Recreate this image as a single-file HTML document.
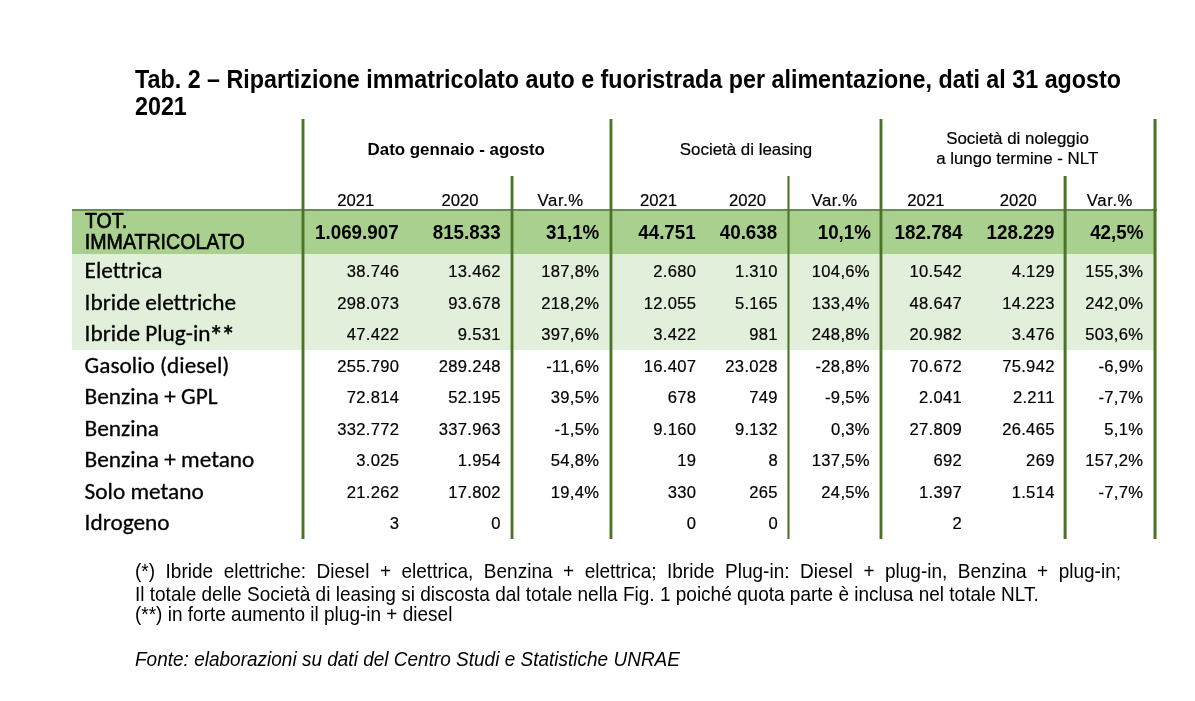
<!DOCTYPE html>
<html><head><meta charset="utf-8"><title>Tab. 2</title>
<style>
html,body{margin:0;padding:0;background:#fff;}
body{width:1195px;height:701px;position:relative;overflow:hidden;font-family:"Liberation Sans", Arial, sans-serif;color:#000;}
.t{position:absolute;white-space:nowrap;-webkit-text-stroke:0.2px #000;}
.r{position:absolute;}
</style></head><body>
<div class="r" style="left:72px;top:211px;width:1083px;height:43px;background:#a9d08e"></div>
<div class="r" style="left:72px;top:254px;width:1083px;height:95.5px;background:#e2efda"></div>
<div class="r" style="left:72px;top:209px;width:1085px;height:2px;background:#6b8a56"></div>
<div class="r" style="left:302px;top:119px;width:2px;height:420px;background:#4a7328;box-shadow:-1px 0 0 rgba(74,115,40,0.45),1px 0 0 rgba(74,115,40,0.45)"></div>
<div class="r" style="left:511px;top:176px;width:2px;height:363px;background:#4a7328;box-shadow:-1px 0 0 rgba(74,115,40,0.4),1px 0 0 rgba(74,115,40,0.45)"></div>
<div class="r" style="left:610px;top:119px;width:2px;height:420px;background:#4a7328;box-shadow:-1px 0 0 rgba(74,115,40,0.45),1px 0 0 rgba(74,115,40,0.4)"></div>
<div class="r" style="left:788px;top:176px;width:1px;height:363px;background:#4a7328;box-shadow:-1px 0 0 rgba(74,115,40,0.55),1px 0 0 rgba(74,115,40,0.55)"></div>
<div class="r" style="left:880px;top:119px;width:2px;height:420px;background:#4a7328;box-shadow:-1px 0 0 rgba(74,115,40,0.45),1px 0 0 rgba(74,115,40,0.4)"></div>
<div class="r" style="left:1064px;top:176px;width:2px;height:363px;background:#4a7328;box-shadow:-1px 0 0 rgba(74,115,40,0.4),1px 0 0 rgba(74,115,40,0.6)"></div>
<div class="r" style="left:1154px;top:119px;width:2px;height:420px;background:#4a7328;box-shadow:-1px 0 0 rgba(74,115,40,0.5),1px 0 0 rgba(74,115,40,0.55)"></div>
<div class="t" style="top:68.78px;font-size:23.3px;line-height:23.3px;font-weight:bold;-webkit-text-stroke:0;left:135.00px;transform:scale(1.0,1.08);transform-origin:0 84.7%;">Tab. 2 – Ripartizione immatricolato auto e fuoristrada per alimentazione, dati al 31 agosto</div>
<div class="t" style="top:95.58px;font-size:23.3px;line-height:23.3px;font-weight:bold;-webkit-text-stroke:0;left:135.00px;transform:scale(1.0,1.08);transform-origin:0 84.7%;">2021</div>
<div class="t" style="top:141.99px;font-size:16.9px;line-height:16.9px;font-weight:bold;-webkit-text-stroke:0;left:156.25px;width:600px;text-align:center;">Dato gennaio - agosto</div>
<div class="t" style="top:142.19px;font-size:16.9px;line-height:16.9px;left:446.00px;width:600px;text-align:center;">Società di leasing</div>
<div class="t" style="top:131.49px;font-size:16.9px;line-height:16.9px;left:717.50px;width:600px;text-align:center;">Società di noleggio</div>
<div class="t" style="top:150.79px;font-size:16.9px;line-height:16.9px;left:717.20px;width:600px;text-align:center;">a lungo termine - NLT</div>
<div class="t" style="top:192.66px;font-size:16.7px;line-height:16.7px;left:55.85px;width:600px;text-align:center;">2021</div>
<div class="t" style="top:192.66px;font-size:16.7px;line-height:16.7px;left:160.00px;width:600px;text-align:center;">2020</div>
<div class="t" style="top:192.66px;font-size:16.7px;line-height:16.7px;left:260.70px;width:600px;text-align:center;letter-spacing:0.6px;">Var.%</div>
<div class="t" style="top:192.66px;font-size:16.7px;line-height:16.7px;left:358.55px;width:600px;text-align:center;">2021</div>
<div class="t" style="top:192.66px;font-size:16.7px;line-height:16.7px;left:447.60px;width:600px;text-align:center;">2020</div>
<div class="t" style="top:192.66px;font-size:16.7px;line-height:16.7px;left:534.65px;width:600px;text-align:center;letter-spacing:0.6px;">Var.%</div>
<div class="t" style="top:192.66px;font-size:16.7px;line-height:16.7px;left:625.90px;width:600px;text-align:center;">2021</div>
<div class="t" style="top:192.66px;font-size:16.7px;line-height:16.7px;left:718.35px;width:600px;text-align:center;">2020</div>
<div class="t" style="top:192.66px;font-size:16.7px;line-height:16.7px;left:809.95px;width:600px;text-align:center;letter-spacing:0.6px;">Var.%</div>
<div class="t" style="top:212.31px;font-size:19.6px;line-height:19.6px;left:85.00px;transform:scale(1.0,1.08);transform-origin:0 84.7%;-webkit-text-stroke:0.6px #000;">TOT.</div>
<div class="t" style="top:233.31px;font-size:19.6px;line-height:19.6px;left:84.80px;transform:scale(1.0,1.08);transform-origin:0 84.7%;-webkit-text-stroke:0.6px #000;">IMMATRICOLATO</div>
<div class="t" style="top:224.39px;font-size:18.8px;line-height:18.8px;font-weight:bold;-webkit-text-stroke:0;right:796.40px;text-align:right;transform:scale(1.0,1.09);transform-origin:100% 84.7%;">1.069.907</div>
<div class="t" style="top:224.39px;font-size:18.8px;line-height:18.8px;font-weight:bold;-webkit-text-stroke:0;right:694.40px;text-align:right;transform:scale(1.0,1.09);transform-origin:100% 84.7%;">815.833</div>
<div class="t" style="top:224.39px;font-size:18.8px;line-height:18.8px;font-weight:bold;-webkit-text-stroke:0;right:595.70px;text-align:right;transform:scale(1.0,1.09);transform-origin:100% 84.7%;">31,1%</div>
<div class="t" style="top:224.39px;font-size:18.8px;line-height:18.8px;font-weight:bold;-webkit-text-stroke:0;right:499.30px;text-align:right;transform:scale(1.0,1.09);transform-origin:100% 84.7%;">44.751</div>
<div class="t" style="top:224.39px;font-size:18.8px;line-height:18.8px;font-weight:bold;-webkit-text-stroke:0;right:417.80px;text-align:right;transform:scale(1.0,1.09);transform-origin:100% 84.7%;">40.638</div>
<div class="t" style="top:224.39px;font-size:18.8px;line-height:18.8px;font-weight:bold;-webkit-text-stroke:0;right:324.00px;text-align:right;transform:scale(1.0,1.09);transform-origin:100% 84.7%;">10,1%</div>
<div class="t" style="top:224.39px;font-size:18.8px;line-height:18.8px;font-weight:bold;-webkit-text-stroke:0;right:232.50px;text-align:right;transform:scale(1.0,1.09);transform-origin:100% 84.7%;">182.784</div>
<div class="t" style="top:224.39px;font-size:18.8px;line-height:18.8px;font-weight:bold;-webkit-text-stroke:0;right:140.60px;text-align:right;transform:scale(1.0,1.09);transform-origin:100% 84.7%;">128.229</div>
<div class="t" style="top:224.39px;font-size:18.8px;line-height:18.8px;font-weight:bold;-webkit-text-stroke:0;right:51.60px;text-align:right;transform:scale(1.0,1.09);transform-origin:100% 84.7%;">42,5%</div>
<div class="t" style="top:259.09px;font-size:23.3px;line-height:23.3px;font-family:Carlito, Calibri, 'Liberation Sans', sans-serif;left:84.60px;font-variant-ligatures:none;font-size-adjust:0.4775;-webkit-text-stroke:0.3px #000;">Elettrica</div>
<div class="t" style="top:264.05px;font-size:16.6px;line-height:16.6px;right:795.70px;text-align:right;letter-spacing:0.3px;">38.746</div>
<div class="t" style="top:264.05px;font-size:16.6px;line-height:16.6px;right:694.20px;text-align:right;letter-spacing:0.3px;">13.462</div>
<div class="t" style="top:264.05px;font-size:16.6px;line-height:16.6px;right:595.70px;text-align:right;letter-spacing:0.3px;">187,8%</div>
<div class="t" style="top:264.05px;font-size:16.6px;line-height:16.6px;right:498.70px;text-align:right;letter-spacing:0.3px;">2.680</div>
<div class="t" style="top:264.05px;font-size:16.6px;line-height:16.6px;right:417.10px;text-align:right;letter-spacing:0.3px;">1.310</div>
<div class="t" style="top:264.05px;font-size:16.6px;line-height:16.6px;right:325.10px;text-align:right;letter-spacing:0.3px;">104,6%</div>
<div class="t" style="top:264.05px;font-size:16.6px;line-height:16.6px;right:232.90px;text-align:right;letter-spacing:0.3px;">10.542</div>
<div class="t" style="top:264.05px;font-size:16.6px;line-height:16.6px;right:140.30px;text-align:right;letter-spacing:0.3px;">4.129</div>
<div class="t" style="top:264.05px;font-size:16.6px;line-height:16.6px;right:51.70px;text-align:right;letter-spacing:0.3px;">155,3%</div>
<div class="t" style="top:290.64px;font-size:23.3px;line-height:23.3px;font-family:Carlito, Calibri, 'Liberation Sans', sans-serif;left:84.60px;font-variant-ligatures:none;font-size-adjust:0.4775;-webkit-text-stroke:0.3px #000;">Ibride elettriche</div>
<div class="t" style="top:295.60px;font-size:16.6px;line-height:16.6px;right:795.70px;text-align:right;letter-spacing:0.3px;">298.073</div>
<div class="t" style="top:295.60px;font-size:16.6px;line-height:16.6px;right:694.20px;text-align:right;letter-spacing:0.3px;">93.678</div>
<div class="t" style="top:295.60px;font-size:16.6px;line-height:16.6px;right:595.70px;text-align:right;letter-spacing:0.3px;">218,2%</div>
<div class="t" style="top:295.60px;font-size:16.6px;line-height:16.6px;right:498.70px;text-align:right;letter-spacing:0.3px;">12.055</div>
<div class="t" style="top:295.60px;font-size:16.6px;line-height:16.6px;right:417.10px;text-align:right;letter-spacing:0.3px;">5.165</div>
<div class="t" style="top:295.60px;font-size:16.6px;line-height:16.6px;right:325.10px;text-align:right;letter-spacing:0.3px;">133,4%</div>
<div class="t" style="top:295.60px;font-size:16.6px;line-height:16.6px;right:232.90px;text-align:right;letter-spacing:0.3px;">48.647</div>
<div class="t" style="top:295.60px;font-size:16.6px;line-height:16.6px;right:140.30px;text-align:right;letter-spacing:0.3px;">14.223</div>
<div class="t" style="top:295.60px;font-size:16.6px;line-height:16.6px;right:51.70px;text-align:right;letter-spacing:0.3px;">242,0%</div>
<div class="t" style="top:322.19px;font-size:23.3px;line-height:23.3px;font-family:Carlito, Calibri, 'Liberation Sans', sans-serif;left:84.60px;font-variant-ligatures:none;font-size-adjust:0.4775;-webkit-text-stroke:0.3px #000;">Ibride Plug-in<span style="font-size:1.2em;line-height:0;letter-spacing:-1.9px;margin-left:-1.3px;position:relative;top:4.9px;-webkit-text-stroke:0.5px #000">**</span></div>
<div class="t" style="top:327.15px;font-size:16.6px;line-height:16.6px;right:795.70px;text-align:right;letter-spacing:0.3px;">47.422</div>
<div class="t" style="top:327.15px;font-size:16.6px;line-height:16.6px;right:694.20px;text-align:right;letter-spacing:0.3px;">9.531</div>
<div class="t" style="top:327.15px;font-size:16.6px;line-height:16.6px;right:595.70px;text-align:right;letter-spacing:0.3px;">397,6%</div>
<div class="t" style="top:327.15px;font-size:16.6px;line-height:16.6px;right:498.70px;text-align:right;letter-spacing:0.3px;">3.422</div>
<div class="t" style="top:327.15px;font-size:16.6px;line-height:16.6px;right:417.10px;text-align:right;letter-spacing:0.3px;">981</div>
<div class="t" style="top:327.15px;font-size:16.6px;line-height:16.6px;right:325.10px;text-align:right;letter-spacing:0.3px;">248,8%</div>
<div class="t" style="top:327.15px;font-size:16.6px;line-height:16.6px;right:232.90px;text-align:right;letter-spacing:0.3px;">20.982</div>
<div class="t" style="top:327.15px;font-size:16.6px;line-height:16.6px;right:140.30px;text-align:right;letter-spacing:0.3px;">3.476</div>
<div class="t" style="top:327.15px;font-size:16.6px;line-height:16.6px;right:51.70px;text-align:right;letter-spacing:0.3px;">503,6%</div>
<div class="t" style="top:353.74px;font-size:23.3px;line-height:23.3px;font-family:Carlito, Calibri, 'Liberation Sans', sans-serif;left:84.60px;font-variant-ligatures:none;font-size-adjust:0.4775;-webkit-text-stroke:0.3px #000;">Gasolio (diesel)</div>
<div class="t" style="top:358.70px;font-size:16.6px;line-height:16.6px;right:795.70px;text-align:right;letter-spacing:0.3px;">255.790</div>
<div class="t" style="top:358.70px;font-size:16.6px;line-height:16.6px;right:694.20px;text-align:right;letter-spacing:0.3px;">289.248</div>
<div class="t" style="top:358.70px;font-size:16.6px;line-height:16.6px;right:595.70px;text-align:right;letter-spacing:0.3px;">-11,6%</div>
<div class="t" style="top:358.70px;font-size:16.6px;line-height:16.6px;right:498.70px;text-align:right;letter-spacing:0.3px;">16.407</div>
<div class="t" style="top:358.70px;font-size:16.6px;line-height:16.6px;right:417.10px;text-align:right;letter-spacing:0.3px;">23.028</div>
<div class="t" style="top:358.70px;font-size:16.6px;line-height:16.6px;right:325.10px;text-align:right;letter-spacing:0.3px;">-28,8%</div>
<div class="t" style="top:358.70px;font-size:16.6px;line-height:16.6px;right:232.90px;text-align:right;letter-spacing:0.3px;">70.672</div>
<div class="t" style="top:358.70px;font-size:16.6px;line-height:16.6px;right:140.30px;text-align:right;letter-spacing:0.3px;">75.942</div>
<div class="t" style="top:358.70px;font-size:16.6px;line-height:16.6px;right:51.70px;text-align:right;letter-spacing:0.3px;">-6,9%</div>
<div class="t" style="top:385.29px;font-size:23.3px;line-height:23.3px;font-family:Carlito, Calibri, 'Liberation Sans', sans-serif;left:84.60px;font-variant-ligatures:none;font-size-adjust:0.4775;-webkit-text-stroke:0.3px #000;">Benzina + GPL</div>
<div class="t" style="top:390.25px;font-size:16.6px;line-height:16.6px;right:795.70px;text-align:right;letter-spacing:0.3px;">72.814</div>
<div class="t" style="top:390.25px;font-size:16.6px;line-height:16.6px;right:694.20px;text-align:right;letter-spacing:0.3px;">52.195</div>
<div class="t" style="top:390.25px;font-size:16.6px;line-height:16.6px;right:595.70px;text-align:right;letter-spacing:0.3px;">39,5%</div>
<div class="t" style="top:390.25px;font-size:16.6px;line-height:16.6px;right:498.70px;text-align:right;letter-spacing:0.3px;">678</div>
<div class="t" style="top:390.25px;font-size:16.6px;line-height:16.6px;right:417.10px;text-align:right;letter-spacing:0.3px;">749</div>
<div class="t" style="top:390.25px;font-size:16.6px;line-height:16.6px;right:325.10px;text-align:right;letter-spacing:0.3px;">-9,5%</div>
<div class="t" style="top:390.25px;font-size:16.6px;line-height:16.6px;right:232.90px;text-align:right;letter-spacing:0.3px;">2.041</div>
<div class="t" style="top:390.25px;font-size:16.6px;line-height:16.6px;right:140.30px;text-align:right;letter-spacing:0.3px;">2.211</div>
<div class="t" style="top:390.25px;font-size:16.6px;line-height:16.6px;right:51.70px;text-align:right;letter-spacing:0.3px;">-7,7%</div>
<div class="t" style="top:416.84px;font-size:23.3px;line-height:23.3px;font-family:Carlito, Calibri, 'Liberation Sans', sans-serif;left:84.60px;font-variant-ligatures:none;font-size-adjust:0.4775;-webkit-text-stroke:0.3px #000;">Benzina</div>
<div class="t" style="top:421.80px;font-size:16.6px;line-height:16.6px;right:795.70px;text-align:right;letter-spacing:0.3px;">332.772</div>
<div class="t" style="top:421.80px;font-size:16.6px;line-height:16.6px;right:694.20px;text-align:right;letter-spacing:0.3px;">337.963</div>
<div class="t" style="top:421.80px;font-size:16.6px;line-height:16.6px;right:595.70px;text-align:right;letter-spacing:0.3px;">-1,5%</div>
<div class="t" style="top:421.80px;font-size:16.6px;line-height:16.6px;right:498.70px;text-align:right;letter-spacing:0.3px;">9.160</div>
<div class="t" style="top:421.80px;font-size:16.6px;line-height:16.6px;right:417.10px;text-align:right;letter-spacing:0.3px;">9.132</div>
<div class="t" style="top:421.80px;font-size:16.6px;line-height:16.6px;right:325.10px;text-align:right;letter-spacing:0.3px;">0,3%</div>
<div class="t" style="top:421.80px;font-size:16.6px;line-height:16.6px;right:232.90px;text-align:right;letter-spacing:0.3px;">27.809</div>
<div class="t" style="top:421.80px;font-size:16.6px;line-height:16.6px;right:140.30px;text-align:right;letter-spacing:0.3px;">26.465</div>
<div class="t" style="top:421.80px;font-size:16.6px;line-height:16.6px;right:51.70px;text-align:right;letter-spacing:0.3px;">5,1%</div>
<div class="t" style="top:448.39px;font-size:23.3px;line-height:23.3px;font-family:Carlito, Calibri, 'Liberation Sans', sans-serif;left:84.60px;font-variant-ligatures:none;font-size-adjust:0.4775;-webkit-text-stroke:0.3px #000;">Benzina + metano</div>
<div class="t" style="top:453.35px;font-size:16.6px;line-height:16.6px;right:795.70px;text-align:right;letter-spacing:0.3px;">3.025</div>
<div class="t" style="top:453.35px;font-size:16.6px;line-height:16.6px;right:694.20px;text-align:right;letter-spacing:0.3px;">1.954</div>
<div class="t" style="top:453.35px;font-size:16.6px;line-height:16.6px;right:595.70px;text-align:right;letter-spacing:0.3px;">54,8%</div>
<div class="t" style="top:453.35px;font-size:16.6px;line-height:16.6px;right:498.70px;text-align:right;letter-spacing:0.3px;">19</div>
<div class="t" style="top:453.35px;font-size:16.6px;line-height:16.6px;right:417.10px;text-align:right;letter-spacing:0.3px;">8</div>
<div class="t" style="top:453.35px;font-size:16.6px;line-height:16.6px;right:325.10px;text-align:right;letter-spacing:0.3px;">137,5%</div>
<div class="t" style="top:453.35px;font-size:16.6px;line-height:16.6px;right:232.90px;text-align:right;letter-spacing:0.3px;">692</div>
<div class="t" style="top:453.35px;font-size:16.6px;line-height:16.6px;right:140.30px;text-align:right;letter-spacing:0.3px;">269</div>
<div class="t" style="top:453.35px;font-size:16.6px;line-height:16.6px;right:51.70px;text-align:right;letter-spacing:0.3px;">157,2%</div>
<div class="t" style="top:479.94px;font-size:23.3px;line-height:23.3px;font-family:Carlito, Calibri, 'Liberation Sans', sans-serif;left:84.60px;font-variant-ligatures:none;font-size-adjust:0.4775;-webkit-text-stroke:0.3px #000;">Solo metano</div>
<div class="t" style="top:484.90px;font-size:16.6px;line-height:16.6px;right:795.70px;text-align:right;letter-spacing:0.3px;">21.262</div>
<div class="t" style="top:484.90px;font-size:16.6px;line-height:16.6px;right:694.20px;text-align:right;letter-spacing:0.3px;">17.802</div>
<div class="t" style="top:484.90px;font-size:16.6px;line-height:16.6px;right:595.70px;text-align:right;letter-spacing:0.3px;">19,4%</div>
<div class="t" style="top:484.90px;font-size:16.6px;line-height:16.6px;right:498.70px;text-align:right;letter-spacing:0.3px;">330</div>
<div class="t" style="top:484.90px;font-size:16.6px;line-height:16.6px;right:417.10px;text-align:right;letter-spacing:0.3px;">265</div>
<div class="t" style="top:484.90px;font-size:16.6px;line-height:16.6px;right:325.10px;text-align:right;letter-spacing:0.3px;">24,5%</div>
<div class="t" style="top:484.90px;font-size:16.6px;line-height:16.6px;right:232.90px;text-align:right;letter-spacing:0.3px;">1.397</div>
<div class="t" style="top:484.90px;font-size:16.6px;line-height:16.6px;right:140.30px;text-align:right;letter-spacing:0.3px;">1.514</div>
<div class="t" style="top:484.90px;font-size:16.6px;line-height:16.6px;right:51.70px;text-align:right;letter-spacing:0.3px;">-7,7%</div>
<div class="t" style="top:511.49px;font-size:23.3px;line-height:23.3px;font-family:Carlito, Calibri, 'Liberation Sans', sans-serif;left:84.60px;font-variant-ligatures:none;font-size-adjust:0.4775;-webkit-text-stroke:0.3px #000;">Idrogeno</div>
<div class="t" style="top:516.45px;font-size:16.6px;line-height:16.6px;right:795.70px;text-align:right;letter-spacing:0.3px;">3</div>
<div class="t" style="top:516.45px;font-size:16.6px;line-height:16.6px;right:694.20px;text-align:right;letter-spacing:0.3px;">0</div>
<div class="t" style="top:516.45px;font-size:16.6px;line-height:16.6px;right:498.70px;text-align:right;letter-spacing:0.3px;">0</div>
<div class="t" style="top:516.45px;font-size:16.6px;line-height:16.6px;right:417.10px;text-align:right;letter-spacing:0.3px;">0</div>
<div class="t" style="top:516.45px;font-size:16.6px;line-height:16.6px;right:232.90px;text-align:right;letter-spacing:0.3px;">2</div>
<div class="t" style="top:562.32px;font-size:19px;line-height:19px;left:135.00px;transform:scale(1.0,1.06);transform-origin:0 84.7%;width:986px;text-align:justify;text-align-last:justify;-webkit-text-stroke:0;">(*) Ibride elettriche: Diesel + elettrica, Benzina + elettrica; Ibride Plug-in: Diesel + plug-in, Benzina + plug-in;</div>
<div class="t" style="top:584.52px;font-size:19px;line-height:19px;left:135.00px;transform:scale(1.0,1.06);transform-origin:0 84.7%;-webkit-text-stroke:0;">Il totale delle Società di leasing si discosta dal totale nella Fig. 1 poiché quota parte è inclusa nel totale NLT.</div>
<div class="t" style="top:604.82px;font-size:19px;line-height:19px;left:135.00px;transform:scale(1.0,1.06);transform-origin:0 84.7%;-webkit-text-stroke:0;">(**) in forte aumento il plug-in + diesel</div>
<div class="t" style="top:649.52px;font-size:19px;line-height:19px;font-style:italic;left:135.00px;transform:scale(1.0,1.06);transform-origin:0 84.7%;-webkit-text-stroke:0;">Fonte: elaborazioni su dati del Centro Studi e Statistiche UNRAE</div>
</body></html>
